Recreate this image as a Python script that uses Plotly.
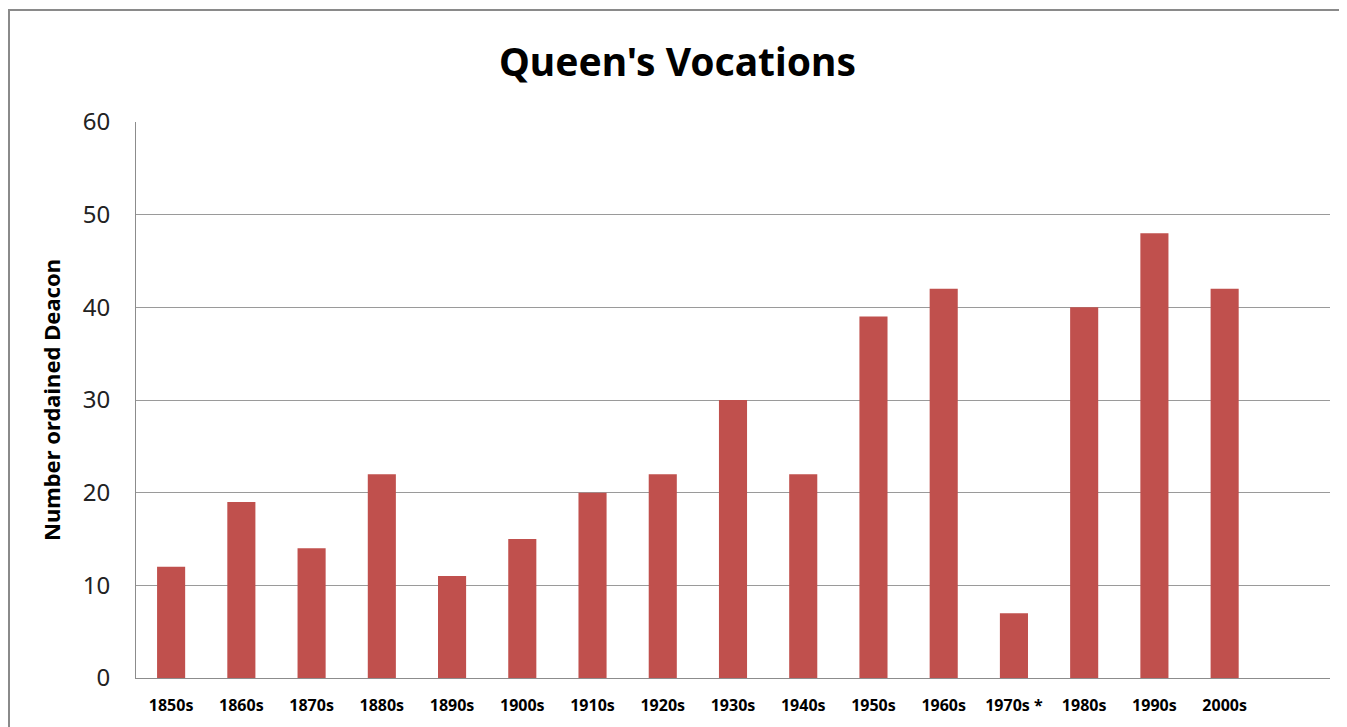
import plotly.graph_objects as go

decades = ["1850s", "1860s", "1870s", "1880s", "1890s", "1900s", "1910s", "1920s",
           "1930s", "1940s", "1950s", "1960s", "1970s *", "1980s", "1990s", "2000s"]
ordained = [12, 19, 14, 22, 11, 15, 20, 22, 30, 22, 39, 42, 7, 40, 48, 42]
y_ticks = [0, 10, 20, 30, 40, 50, 60]

OFF = 8  # page body margin
W, H = 1347 - OFF, 727 - OFF
L, R, T, B = 136 - OFF, 17, 122 - OFF, 49
pw, ph = W - L - R, H - T - B

def px_x(x):
    return (x - OFF - L) / pw

def px_y(y):
    return (H - B - (y - OFF)) / ph

fig = go.Figure(go.Bar(
    x=decades, y=ordained,
    marker=dict(color="#C0504D", line=dict(width=0)),
))

fig.update_layout(
    width=W, height=H,
    margin=dict(l=L, r=R, t=T, b=B),
    paper_bgcolor="white", plot_bgcolor="white",
    bargap=0.6,
    showlegend=False,
    title=dict(text="<b>Queen's Vocations</b>", x=0.5, xanchor="center",
               y=1 - (62 - OFF) / H, yanchor="middle",
               font=dict(family="Noto Sans", size=39, color="black")),
    xaxis=dict(type="category", range=[-0.5, 16.5], showgrid=False,
               showline=True, linecolor="#8c8c8c", linewidth=1,
               ticks="", ticklabelstandoff=13,
               tickfont=dict(family="Noto Sans", size=16, color="black", weight="bold")),
    yaxis=dict(range=[0, 60], tickvals=y_ticks, showgrid=True, gridcolor="#9a9a9a",
               gridwidth=1, showline=True, linecolor="#8c8c8c", linewidth=1,
               zeroline=False, ticks="", ticklabelstandoff=20,
               tickfont=dict(family="Noto Sans", size=24, color="#222222"),
               title=dict(text="<b>Number ordained Deacon</b>", standoff=16,
                          font=dict(family="Noto Sans", size=22, color="black"))),
    shapes=[dict(type="rect", xref="paper", yref="paper",
                 x0=px_x(9), x1=px_x(1360), y0=px_y(740), y1=px_y(10),
                 line=dict(color="#8a8a8a", width=2), fillcolor="rgba(0,0,0,0)",
                 layer="below")],
)

fig.write_html("out.html")
